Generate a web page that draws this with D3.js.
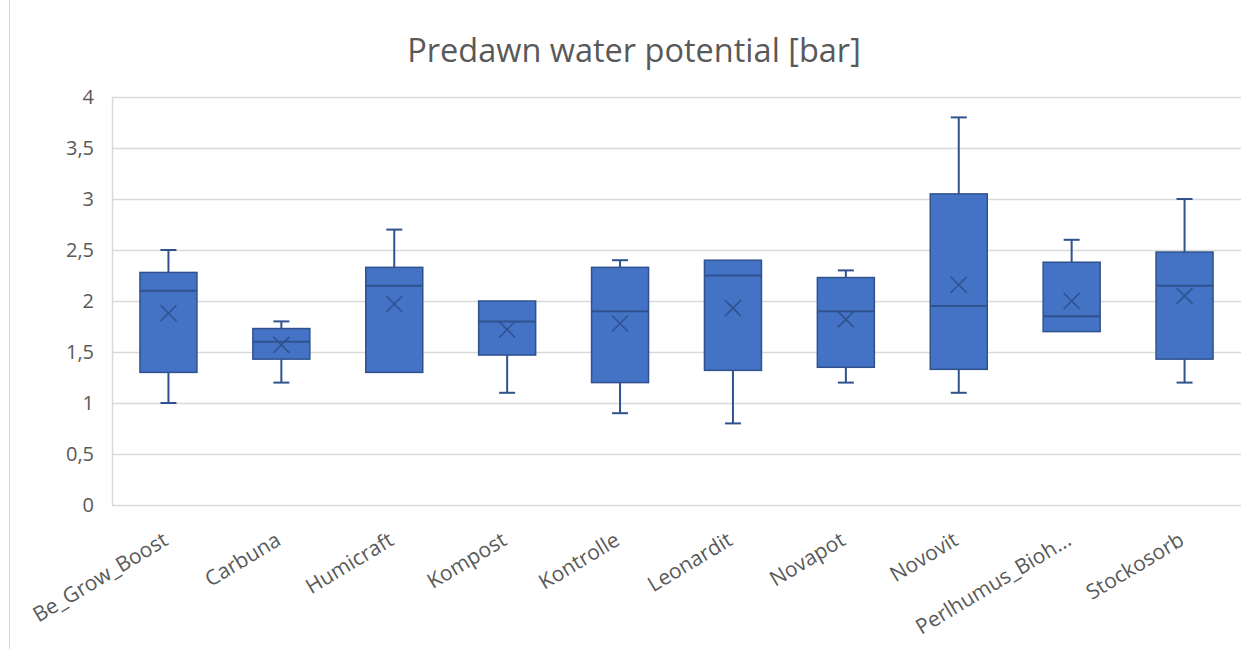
<!DOCTYPE html>
<html><head><meta charset="utf-8">
<script src="https://cdn.jsdelivr.net/npm/d3@7"></script>
<style>body{margin:0;background:#fff;} svg{display:block;}</style>
</head><body><svg id="c" width="1242" height="649"></svg>
<script>
const categories = ["Be_Grow_Boost","Carbuna","Humicraft","Kompost","Kontrolle","Leonardit","Novapot","Novovit","Perlhumus_Bioh...","Stockosorb"];
const minVals    = [1.00, 1.20, 1.30, 1.10, 0.90, 0.80, 1.20, 1.10, 1.70, 1.20];
const q1Vals     = [1.30, 1.43, 1.30, 1.47, 1.20, 1.32, 1.35, 1.33, 1.70, 1.43];
const medianVals = [2.10, 1.60, 2.15, 1.80, 1.90, 2.25, 1.90, 1.95, 1.85, 2.15];
const q3Vals     = [2.28, 1.73, 2.33, 2.00, 2.33, 2.40, 2.23, 3.05, 2.38, 2.48];
const maxVals    = [2.50, 1.80, 2.70, 2.00, 2.40, 2.40, 2.30, 3.80, 2.60, 3.00];
const meanVals   = [1.88, 1.57, 1.97, 1.72, 1.78, 1.93, 1.82, 2.16, 2.00, 2.05];
const yTicks = [0, 0.5, 1, 1.5, 2, 2.5, 3, 3.5, 4];
const title = "Predawn water potential [bar]";

(function(){
const svg = d3.select("#c");
const pLeft = 112, pRight = 1241, pTop = 97, pBottom = 505;
const x = d3.scaleBand().domain(categories).range([pLeft, pRight]);
const y = d3.scaleLinear().domain([0, 4]).range([pBottom, pTop]);
const fontFam = "'Open Sans', sans-serif";
const txtCol = "#595959";
const fill = "#4472C4", dark = "#2F528F";

// chart border (left)
svg.append("line").attr("x1",9.5).attr("x2",9.5).attr("y1",0).attr("y2",649).attr("stroke","#d9d9d9").attr("stroke-width",1);

// title
svg.append("text").attr("x",634).attr("y",62).attr("text-anchor","middle")
  .attr("font-family",fontFam).attr("font-size",32.5).attr("fill",txtCol).text(title);

// gridlines
svg.append("g").selectAll("line").data(yTicks).join("line")
  .attr("x1",pLeft).attr("x2",pRight).attr("y1",d=>Math.round(y(d))+0.5).attr("y2",d=>Math.round(y(d))+0.5)
  .attr("stroke","#d9d9d9").attr("stroke-width",1.5);
svg.append("line").attr("x1",pLeft+0.5).attr("x2",pLeft+0.5).attr("y1",y(4)).attr("y2",y(0)+0.5)
  .attr("stroke","#d9d9d9").attr("stroke-width",1.5);

// y axis labels
const yAxis = d3.axisLeft(y).tickValues(yTicks).tickSize(0).tickPadding(0)
  .tickFormat(d=>String(d).replace(".",","));
const ya = svg.append("g").attr("transform",`translate(${pLeft-18},0)`).call(yAxis);
ya.select(".domain").remove();
ya.selectAll("text").attr("font-family",fontFam).attr("font-size",20).attr("fill",txtCol);

// x axis labels
const xAxis = d3.axisBottom(x).tickSize(0).tickPadding(0);
const xa = svg.append("g").attr("transform",`translate(0,${pBottom})`).call(xAxis);
xa.select(".domain").remove();
xa.selectAll("text").attr("font-family",fontFam).attr("font-size",21).attr("fill",txtCol)
  .attr("text-anchor","end").attr("y",0).attr("dy",0)
  .attr("transform","translate(1,39) rotate(-31)");

// boxes
const bw = 57, cap = 16;
const data = categories.map((c,i)=>({c,min:minVals[i],q1:q1Vals[i],med:medianVals[i],q3:q3Vals[i],max:maxVals[i],mean:meanVals[i]}));
const g = svg.append("g").selectAll("g").data(data).join("g")
  .attr("transform",d=>`translate(${x(d.c)+x.bandwidth()/2},0)`);
g.append("line").attr("x1",0).attr("x2",0).attr("y1",d=>y(d.max)).attr("y2",d=>y(d.q3)).attr("stroke",dark).attr("stroke-width",2);
g.append("line").attr("x1",0).attr("x2",0).attr("y1",d=>y(d.q1)).attr("y2",d=>y(d.min)).attr("stroke",dark).attr("stroke-width",2);
g.filter(d=>d.max>d.q3).append("line").attr("x1",-cap/2).attr("x2",cap/2).attr("y1",d=>y(d.max)).attr("y2",d=>y(d.max)).attr("stroke",dark).attr("stroke-width",2);
g.filter(d=>d.min<d.q1).append("line").attr("x1",-cap/2).attr("x2",cap/2).attr("y1",d=>y(d.min)).attr("y2",d=>y(d.min)).attr("stroke",dark).attr("stroke-width",2);
g.append("rect").attr("x",-bw/2).attr("width",bw).attr("y",d=>y(d.q3)).attr("height",d=>y(d.q1)-y(d.q3))
  .attr("fill",fill).attr("stroke",dark).attr("stroke-width",1.5);
g.append("line").attr("x1",-bw/2).attr("x2",bw/2).attr("y1",d=>y(d.med)).attr("y2",d=>y(d.med)).attr("stroke",dark).attr("stroke-width",2);
const m = 8;
g.append("path").attr("d",d=>{const yy=y(d.mean);return `M${-m},${yy-m}L${m},${yy+m}M${-m},${yy+m}L${m},${yy-m}`;})
  .attr("stroke",dark).attr("stroke-width",1.5).attr("fill","none");
})();
</script></body></html>
